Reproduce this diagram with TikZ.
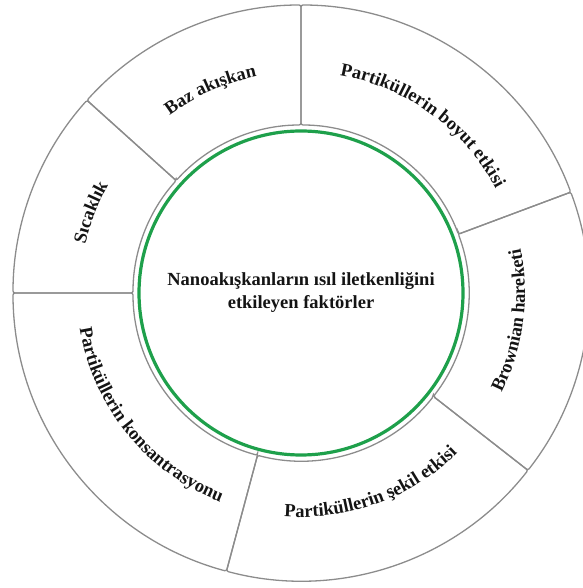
\documentclass[tikz,border=0pt]{standalone}
\usepackage{fontspec}
\setmainfont{Liberation Serif}
\usetikzlibrary{decorations.text}
\definecolor{seggray}{RGB}{140,140,140}
\definecolor{ringgreen}{RGB}{30,160,75}
\definecolor{txt}{RGB}{20,20,20}
\newcommand{\segfont}{\fontsize{18.5}{23}\selectfont\bfseries}
\begin{document}
\begin{tikzpicture}[x=1pt,y=1pt,
  seg/.style={draw=seggray, line width=1.3pt, rounded corners=2pt},
  cwtext/.style={decorate, decoration={text along path, text align=center, text color=txt, text={|\segfont|#1}}},
]
\useasboundingbox (0,0) rectangle (582,588);
\begin{scope}[shift={(301,295)}]
\foreach \a/\b in {180/138, 138/90, 90/20.5, 20.5/-38, -38/-105, -105/-180} {
  \draw[seg] (\a:168) -- (\a:288) arc[start angle=\a, end angle=\b, radius=288] -- (\b:168) arc[start angle=\b, end angle=\a, radius=168] -- cycle;
}
\draw[ringgreen, line width=3.2pt] (0,0) circle[radius=162];
\node[font=\segfont, align=center, text=txt] (title) at (0,1) {Nanoakışkanların ısıl iletkenliğini\\etkileyen faktörler};
% top half: clockwise
\path[cwtext={Sıcaklık}] (189:221) arc[start angle=189, end angle=129, radius=221];
\path[cwtext={Baz akışkan}] (144:221) arc[start angle=144, end angle=84, radius=221];
\path[cwtext={Partiküllerin boyut etkisi}] (104:221) arc[start angle=104, end angle=4, radius=221];
% bottom half: counterclockwise
\path[cwtext={Brownian hareketi}] (-45:224) arc[start angle=-45, end angle=30, radius=224];
\path[cwtext={Partiküllerin şekil etkisi}] (-115:224) arc[start angle=-115, end angle=-25, radius=224];
\path[cwtext={Partiküllerin konsantrasyonu}] (-195:224) arc[start angle=-195, end angle=-87, radius=224];
\end{scope}
\end{tikzpicture}
\end{document}
